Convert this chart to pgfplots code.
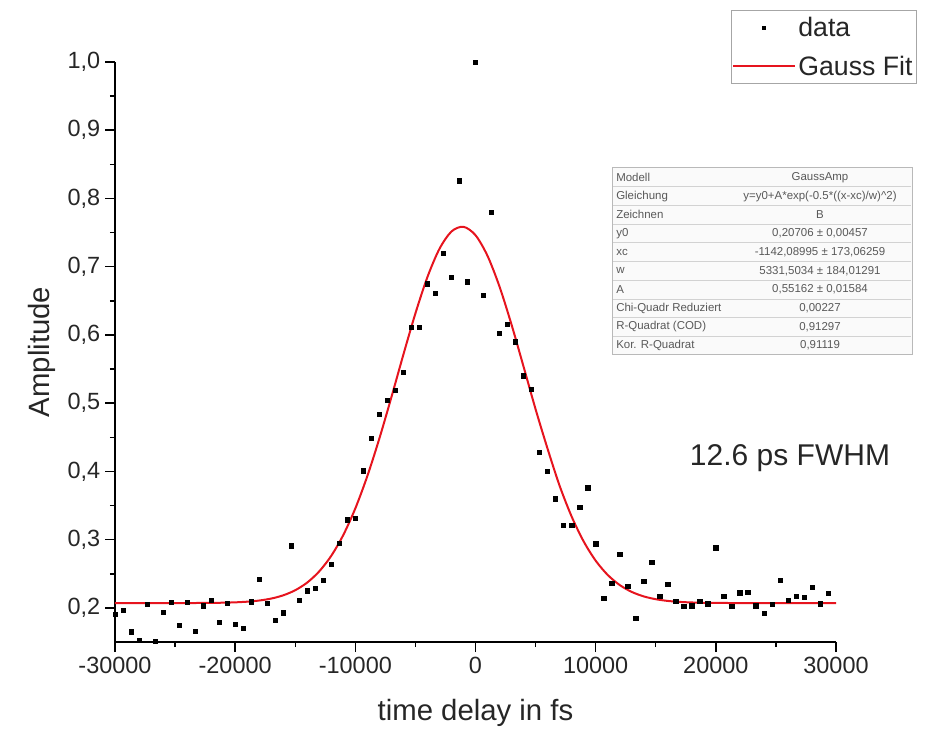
\documentclass[border=0pt]{standalone}
\usepackage{pgfplots}
\pgfplotsset{compat=1.18}
\usepackage{pgfplotstable}
\usepackage{fontspec}
\setmainfont{Liberation Sans}
\definecolor{fitred}{RGB}{230,20,30}

\pgfplotstableread{
x y
-30000 0.191
-29333 0.196
-28667 0.165
-28000 0.153
-27333 0.205
-26667 0.151
-26000 0.194
-25333 0.208
-24667 0.174
-24000 0.208
-23333 0.166
-22667 0.203
-22000 0.211
-21333 0.179
-20667 0.207
-20000 0.176
-19333 0.170
-18667 0.209
-18000 0.242
-17333 0.207
-16667 0.182
-16000 0.193
-15333 0.291
-14667 0.211
-14000 0.225
-13333 0.229
-12667 0.241
-12000 0.264
-11333 0.295
-10667 0.329
-10000 0.331
-9333 0.401
-8667 0.449
-8000 0.484
-7333 0.504
-6667 0.519
-6000 0.545
-5333 0.611
-4667 0.611
-4000 0.675
-3333 0.661
-2667 0.720
-2000 0.685
-1333 0.826
-667 0.678
0 1.000
667 0.658
1333 0.780
2000 0.602
2667 0.616
3333 0.590
4000 0.540
4667 0.520
5333 0.428
6000 0.400
6667 0.360
7333 0.321
8000 0.321
8667 0.347
9333 0.376
10000 0.294
10667 0.214
11333 0.236
12000 0.279
12667 0.232
13333 0.185
14000 0.239
14667 0.267
15333 0.217
16000 0.235
16667 0.210
17333 0.202
18000 0.203
18667 0.210
19333 0.206
20000 0.288
20667 0.217
21333 0.202
22000 0.222
22667 0.223
23333 0.203
24000 0.192
24667 0.205
25333 0.240
26000 0.211
26667 0.217
27333 0.216
28000 0.230
28667 0.206
29333 0.221
}\datatable

\pgfplotstableread{
x y
-30000 0.20706
-26000 0.20707
-24000 0.20712
-23000 0.20718
-22000 0.20732
-21000 0.20760
-20000 0.20812
-19000 0.20908
-18000 0.21078
-17000 0.21367
-16000 0.21842
-15000 0.22588
-14000 0.23717
-13000 0.25357
-12000 0.27642
-11000 0.30689
-10000 0.34582
-9000 0.39325
-8000 0.44824
-7000 0.50871
-6000 0.57128
-5000 0.63163
-4000 0.68486
-3000 0.72618
-2000 0.75159
-1000 0.75848
0 0.74617
1000 0.71591
2000 0.67074
3000 0.61498
4000 0.55352
5000 0.49114
6000 0.43306
7000 0.37893
8000 0.33387
9000 0.29740
10000 0.26919
11000 0.24831
12000 0.23350
13000 0.22342
14000 0.21683
15000 0.21270
16000 0.21020
17000 0.20875
18000 0.20794
19000 0.20750
20000 0.20727
21000 0.20716
22000 0.20710
24000 0.20707
30000 0.20706
}\fittable

\begin{document}
\begin{tikzpicture}
\begin{axis}[
  scale only axis,
  width=540.75pt, height=435pt,
  xmin=-30000, xmax=30000, ymin=0.15, ymax=1.0,
  clip=false,
  axis x line*=bottom, axis y line*=left,
  axis line style={-, line width=1.1pt, black},
  tick align=outside,
  major tick length=7.5pt, minor tick length=3.75pt,
  every tick/.style={line width=1.1pt, black},
  xtick={-30000,-20000,-10000,0,10000,20000,30000},
  minor x tick num=1,
  ytick={0.2,0.3,0.4,0.5,0.6,0.7,0.8,0.9,1.0},
  minor y tick num=1,
  scaled x ticks=false, scaled y ticks=false,
  /pgf/number format/assume math mode=true,
  xticklabel style={/pgf/number format/1000 sep={}},
  yticklabel style={/pgf/number format/.cd, fixed, fixed zerofill, precision=1, use comma},
  ticklabel style={font=\fontsize{17.6pt}{20pt}\selectfont, text=black!85},
  xlabel={time delay in fs},
  ylabel={Amplitude},
  label style={font=\fontsize{22pt}{26pt}\selectfont, text=black!85},
  xlabel style={at={(axis description cs:0.5,-0.1224)}, anchor=center},
  ylabel style={at={(axis description cs:-0.1012,0.5)}, anchor=center},
  legend style={at={(axis description cs:1.1123,1.0897)}, anchor=north east,
    draw=gray!70, line width=0.75pt, fill=white,
    font=\fontsize{20pt}{24pt}\selectfont, text=black!85,
    inner xsep=1pt, inner ysep=3pt, row sep=9pt},
  legend cell align=left,
  legend image code/.code={\draw[mark repeat=2,mark phase=2,#1] plot coordinates {(0pt,0pt) (23pt,0pt) (46pt,0pt)};},
]
\addlegendimage{only marks, mark=square*, mark size=1.3pt, black}
\addlegendentry{data}
\addlegendimage{fitred, line width=1.5pt}
\addlegendentry{Gauss Fit}
\addplot[fitred, line width=1.5pt, smooth, forget plot] table[x=x,y=y] {\fittable};
\addplot[only marks, mark=square*, mark size=1.6pt, black, forget plot] table[x=x,y=y] {\datatable};
\end{axis}
\begin{scope}[x=0.75pt, y=-0.75pt, shift={(-86.25pt,481.5pt)}]
  % parameter table
  \draw[gray!55, line width=0.75pt, fill=gray!4] (612,168) rectangle (912,355);
  \foreach \i in {1,...,9} {
    \draw[gray!35, line width=0.5pt] (613,{168+18.7*\i}) -- (911,{168+18.7*\i});
  }
  \begin{scope}[every node/.style={font=\fontsize{8.6pt}{10pt}\selectfont, text=black!65, inner sep=0pt}]
  \foreach \i/\a/\b in {
    1/Modell/GaussAmp,
    2/Gleichung/{y=y0+A*exp(-0.5*((x-xc)/w)\textasciicircum 2)},
    3/Zeichnen/B,
    4/y0/{0,20706 ± 0,00457},
    5/xc/{-1142,08995 ± 173,06259},
    6/w/{5331,5034 ± 184,01291},
    7/A/{0,55162 ± 0,01584},
    8/Chi-Quadr Reduziert/{0,00227},
    9/R-Quadrat (COD)/{0,91297},
    10/Kor. R-Quadrat/{0,91119}} {
    \node[anchor=west] at (616,{168+18.7*(\i-0.5)}) {\a};
    \node[anchor=center] at (820,{168+18.7*(\i-0.5)}) {\b};
  }
  \end{scope}
  \node[font=\fontsize{22.5pt}{26pt}\selectfont, text=black!85] at (790,458) {12.6 ps FWHM};
  \pgfresetboundingbox
  \path[use as bounding box] (0,0) rectangle (930,735);
\end{scope}
\end{tikzpicture}
\end{document}
